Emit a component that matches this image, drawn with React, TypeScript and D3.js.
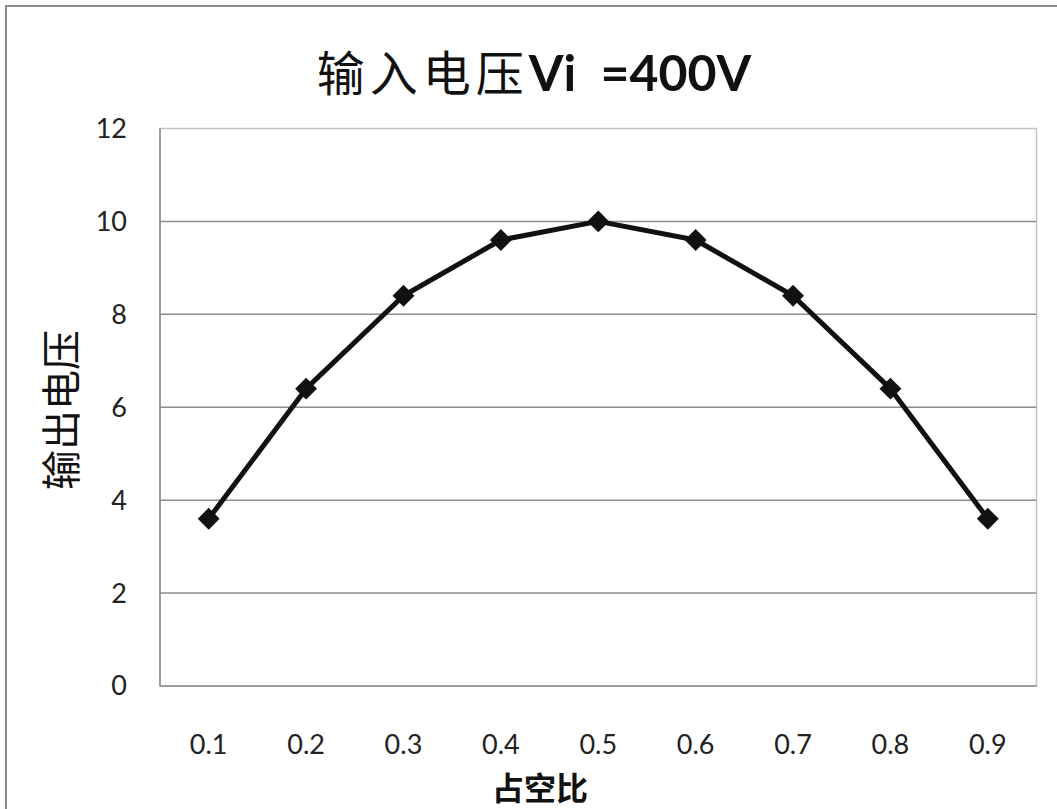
import React, { useEffect, useRef } from "react";
import * as d3 from "d3";

const dutyLabels = ["0.1", "0.2", "0.3", "0.4", "0.5", "0.6", "0.7", "0.8", "0.9"];
const outputVoltage = [3.6, 6.4, 8.4, 9.6, 10, 9.6, 8.4, 6.4, 3.6];
const yTicks = [0, 2, 4, 6, 8, 10, 12];

const W = 1057;
const H = 809;
const plot = { left: 160, top: 128.5, right: 1036.5, bottom: 686 };
const cjk = "'Noto Sans CJK SC', sans-serif";
const latin = "Lato, 'Open Sans', sans-serif";

export default function App() {
  const ref = useRef<SVGSVGElement | null>(null);

  useEffect(() => {
    const svg = d3.select(ref.current);
    svg.selectAll("*").remove();

    const x = d3
      .scaleBand<string>()
      .domain(dutyLabels)
      .range([plot.left, plot.right]);
    const y = d3.scaleLinear().domain([0, 12]).range([plot.bottom, plot.top]);

    svg.append("rect").attr("width", W).attr("height", H).attr("fill", "#fff");

    // outer chart frame
    svg
      .append("rect")
      .attr("x", 6)
      .attr("y", 6)
      .attr("width", W + 10)
      .attr("height", H + 10)
      .attr("fill", "none")
      .attr("stroke", "#8a8a8a")
      .attr("stroke-width", 2);

    // plot-area frame
    svg
      .append("rect")
      .attr("x", plot.left)
      .attr("y", plot.top)
      .attr("width", plot.right - plot.left)
      .attr("height", plot.bottom - plot.top)
      .attr("fill", "none")
      .attr("stroke", "#c4c4c4")
      .attr("stroke-width", 1.5);

    // horizontal gridlines
    svg
      .append("g")
      .selectAll("line")
      .data(yTicks.filter((t) => t > 0 && t < 12))
      .join("line")
      .attr("x1", plot.left)
      .attr("x2", plot.right)
      .attr("y1", (d) => y(d))
      .attr("y2", (d) => y(d))
      .attr("stroke", "#8e8e8e")
      .attr("stroke-width", 1.5);

    // axis lines
    svg
      .append("line")
      .attr("x1", plot.left)
      .attr("x2", plot.left)
      .attr("y1", plot.top)
      .attr("y2", plot.bottom)
      .attr("stroke", "#8a8a8a")
      .attr("stroke-width", 1.5);
    svg
      .append("line")
      .attr("x1", plot.left)
      .attr("x2", plot.right)
      .attr("y1", plot.bottom)
      .attr("y2", plot.bottom)
      .attr("stroke", "#8a8a8a")
      .attr("stroke-width", 1.5);

    // y tick labels
    svg
      .append("g")
      .selectAll("text")
      .data(yTicks)
      .join("text")
      .attr("x", 127)
      .attr("y", (d) => y(d))
      .attr("dy", "0.35em")
      .attr("text-anchor", "end")
      .attr("font-family", latin)
      .attr("font-size", 27)
      .attr("fill", "#222")
      .text((d) => String(d));

    // x tick labels
    svg
      .append("g")
      .selectAll("text")
      .data(dutyLabels)
      .join("text")
      .attr("x", (d) => (x(d) as number) + x.bandwidth() / 2)
      .attr("y", 745)
      .attr("dy", "0.35em")
      .attr("text-anchor", "middle")
      .attr("font-family", latin)
      .attr("font-size", 27)
      .attr("fill", "#222")
      .text((d) => d);

    const px = (_: number, i: number) => (x(dutyLabels[i]) as number) + x.bandwidth() / 2;

    // series line
    const line = d3
      .line<number>()
      .x(px)
      .y((d) => y(d));
    svg
      .append("path")
      .datum(outputVoltage)
      .attr("d", line)
      .attr("fill", "none")
      .attr("stroke", "#111")
      .attr("stroke-width", 5)
      .attr("stroke-linejoin", "round");

    // diamond markers
    const diamond = d3.symbol().type(d3.symbolSquare).size(240);
    svg
      .append("g")
      .selectAll("path")
      .data(outputVoltage)
      .join("path")
      .attr("d", diamond)
      .attr("transform", (d, i) => `translate(${px(d, i)},${y(d)}) rotate(45)`)
      .attr("fill", "#111");

    // title
    const title = svg
      .append("text")
      .attr("x", 534)
      .attr("y", 91)
      .attr("text-anchor", "middle")
      .attr("fill", "#111");
    title
      .append("tspan")
      .attr("font-family", cjk)
      .attr("font-size", 48)
      .attr("letter-spacing", 5)
      .text("输入电压");
    title
      .append("tspan")
      .attr("font-family", latin)
      .attr("font-weight", "bold")
      .attr("font-size", 50)
      .attr("xml:space", "preserve")
      .style("white-space", "pre")
      .text("Vi  =400V");

    // axis titles
    svg
      .append("text")
      .attr("transform", "translate(76,410) rotate(-90)")
      .attr("text-anchor", "middle")
      .attr("font-family", cjk)
      .attr("font-size", 40)
      .attr("fill", "#111")
      .text("输出电压");
    svg
      .append("text")
      .attr("x", 540)
      .attr("y", 800)
      .attr("text-anchor", "middle")
      .attr("font-family", cjk)
      .attr("font-weight", "bold")
      .attr("font-size", 32)
      .attr("fill", "#111")
      .text("占空比");
  }, []);

  return (
    <svg
      ref={ref}
      width={W}
      height={H}
      style={{ position: "absolute", left: 0, top: 0, display: "block" }}
    />
  );
}
